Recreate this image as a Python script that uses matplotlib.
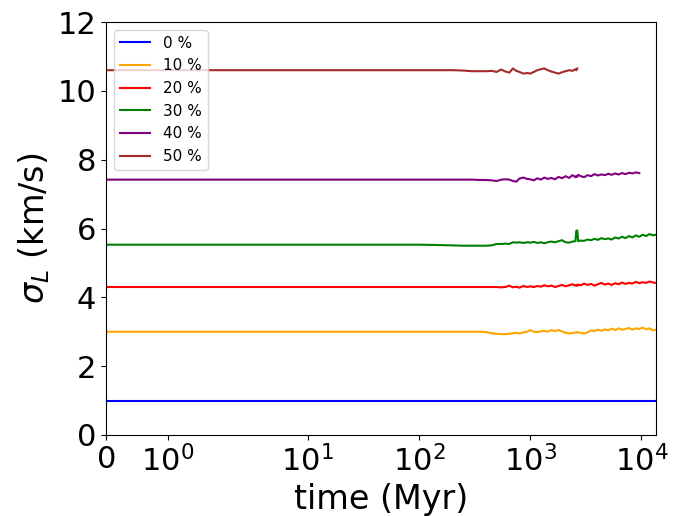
import matplotlib
matplotlib.use("Agg")
import matplotlib.pyplot as plt
from matplotlib.ticker import NullLocator

# time grid (Myr)
t = [0, 1, 2, 5, 10, 20, 50, 100, 150, 200,
     250, 300, 350, 400, 450, 500, 550, 600, 650, 700,
     750, 800, 870, 940, 1000, 1080, 1160, 1250, 1340, 1440,
     1550, 1670, 1800, 1930, 2080, 2240, 2400, 2550, 2600, 2650,
     2700, 2850, 3050, 3280, 3520, 3780, 4060, 4360, 4680, 5030,
     5400, 5800, 6230, 6690, 7180, 7710, 8280, 8890, 9550, 10250,
     11000, 11800, 12700, 13500]

s0 = [1.0] * 64

s10 = [3.0, 3.0, 3.0, 3.0, 3.0, 3.0, 3.0, 3.0, 3.0, 3.0,
       3.0, 3.0, 3.0, 2.99, 2.96, 2.94, 2.93, 2.93, 2.94, 2.96,
       2.97, 2.95, 2.98, 3.0, 3.05, 3.0, 2.99, 3.01, 3.03, 3.0,
       3.05, 3.02, 3.05, 3.01, 2.97, 2.95, 2.96, 2.98, 2.97, 2.99,
       2.98, 2.97, 2.95, 2.98, 3.04, 3.02, 3.06, 3.03, 3.07, 3.04,
       3.09, 3.05, 3.1, 3.06, 3.08, 3.11, 3.06, 3.1, 3.08, 3.12,
       3.07, 3.1, 3.04, 3.06]

s20 = [4.3, 4.3, 4.3, 4.3, 4.3, 4.3, 4.3, 4.3, 4.3, 4.3,
       4.3, 4.3, 4.3, 4.3, 4.3, 4.3, 4.29, 4.3, 4.34, 4.29,
       4.31, 4.28, 4.33, 4.3, 4.32, 4.3, 4.33, 4.31, 4.35, 4.32,
       4.34, 4.3, 4.33, 4.36, 4.32, 4.35, 4.38, 4.34, 4.36, 4.33,
       4.37, 4.35, 4.4, 4.36, 4.39, 4.34, 4.38, 4.42, 4.37, 4.4,
       4.36, 4.41, 4.38, 4.43, 4.39, 4.42, 4.4, 4.45, 4.41, 4.44,
       4.42, 4.46, 4.43, 4.42]

s30 = [5.53, 5.53, 5.53, 5.53, 5.53, 5.53, 5.53, 5.53, 5.52, 5.51,
       5.5, 5.5, 5.5, 5.5, 5.51, 5.55, 5.55, 5.56, 5.55, 5.6,
       5.59, 5.6, 5.58, 5.6, 5.59, 5.61, 5.58, 5.6, 5.57, 5.6,
       5.62, 5.6, 5.63, 5.66, 5.6, 5.59, 5.62, 5.63, 5.94, 5.94,
       5.63, 5.65, 5.64, 5.68, 5.66, 5.7, 5.67, 5.72, 5.69, 5.71,
       5.68, 5.74, 5.71, 5.76, 5.72, 5.78, 5.74, 5.8, 5.76, 5.82,
       5.78, 5.84, 5.8, 5.82]

s40 = [7.42, 7.42, 7.42, 7.42, 7.42, 7.42, 7.42, 7.42, 7.42, 7.42,
       7.42, 7.42, 7.41, 7.41, 7.4, 7.38, 7.42, 7.43, 7.42, 7.38,
       7.36, 7.45, 7.48, 7.44, 7.43, 7.4, 7.46, 7.42, 7.48, 7.44,
       7.47, 7.43, 7.5, 7.46, 7.52, 7.47, 7.55, 7.49, 7.53, 7.5,
       7.56, 7.52, 7.49, 7.55, 7.52, 7.58, 7.54, 7.57, 7.55, 7.59,
       7.56, 7.6, 7.57, 7.61, 7.58, 7.62, 7.6, 7.63, 7.61]

s50 = [10.6, 10.6, 10.6, 10.6, 10.6, 10.6, 10.6, 10.6, 10.6, 10.6,
       10.59, 10.57, 10.57, 10.57, 10.58, 10.55, 10.62, 10.56, 10.53, 10.65,
       10.58, 10.55, 10.5, 10.52, 10.5, 10.55, 10.6, 10.63, 10.65, 10.6,
       10.56, 10.53, 10.5, 10.54, 10.57, 10.6, 10.58, 10.63, 10.6, 10.65]

series = [s0, s10, s20, s30, s40, s50]
labels = ["0 %", "10 %", "20 %", "30 %", "40 %", "50 %"]
colors = ["blue", "orange", "red", "green", "purple", "brown"]

fig = plt.figure(figsize=(6.84, 5.16), dpi=100)
ax = fig.add_axes([106 / 684, 1 - 435 / 516, 550 / 684, 413 / 516])

for vals, lab, col in zip(series, labels, colors):
    ax.plot(t[:len(vals)], vals, color=col, label=lab, lw=1.5)

ax.set_xscale("symlog", linthresh=2)
ax.set_xlim(0, 13500)
ax.set_ylim(0, 12)
ax.set_xticks([0, 1, 10, 100, 1000, 10000])
ax.xaxis.set_minor_locator(NullLocator())
ax.tick_params(labelsize=22)
ax.set_xlabel("time (Myr)", fontsize=24)
ax.set_ylabel(r"$\sigma_L$ (km/s)", fontsize=24)
ax.legend(loc="upper left", fontsize=11)

fig.savefig("out.png", dpi=100)
